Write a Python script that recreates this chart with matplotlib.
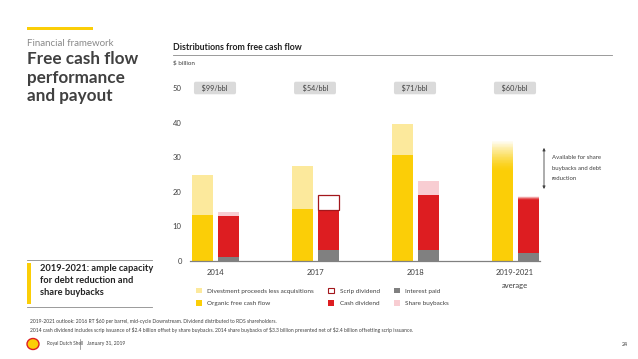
import matplotlib
matplotlib.use("Agg")
import matplotlib.pyplot as plt
from matplotlib.patches import Patch, Rectangle, Ellipse
from matplotlib.lines import Line2D
import numpy as np

plt.rcParams['font.family'] = ['Lato', 'DejaVu Sans']

# data ($ billion)
periods = ["2014", "2017", "2018", "2019-2021\naverage"]
prices = ["$99/bbl", "$54/bbl", "$71/bbl", "$60/bbl"]
organic_fcf = [13.3, 15.0, 30.6, 26.0]
divestments = [11.7, 12.5, 8.9, 0.0]
interest_paid = [1.2, 3.2, 3.2, 2.4]
cash_dividend = [11.8, 11.3, 15.9, 15.2]
share_buybacks = [1.1, 0.3, 4.0, 0.0]
scrip_dividend = [0.0, 4.3, 0.0, 0.0]
# outlook fades out between these two levels
outlook_fcf_top = 34.8
outlook_dist_top = 18.7
available_range = (20.0, 33.5)

YELLOW = "#FBCE07"
LIGHT_YELLOW = "#FCE99C"
RED = "#DD1D21"
PINK = "#F8CDD2"
GREY = "#808080"
DARK_RED = "#A3171C"
TEXT = "#404040"

W, H = 638, 359
fig = plt.figure(figsize=(W / 100, H / 100), dpi=100)


def fx(px):
    return px / W


def fy(py):
    return 1 - py / H


ax = fig.add_axes([fx(190), fy(261), fx(540) - fx(190), fy(88) - fy(261)])
x = np.arange(len(periods))
bw = 0.21
off = 0.13

ax.bar(x - off, organic_fcf, bw, color=YELLOW, zorder=2)
ax.bar(x - off, divestments, bw, bottom=organic_fcf, color=LIGHT_YELLOW, zorder=2)

ax.bar(x + off, interest_paid, bw, color=GREY, zorder=2)
b1 = np.array(interest_paid)
ax.bar(x + off, cash_dividend, bw, bottom=b1, color=RED, zorder=2)
b2 = b1 + np.array(cash_dividend)
ax.bar(x + off, share_buybacks, bw, bottom=b2, color=PINK, zorder=2)
b3 = b2 + np.array(share_buybacks)
scrip = np.array(scrip_dividend)
ax.bar(x[scrip > 0] + off, scrip[scrip > 0], bw, bottom=b3[scrip > 0],
       facecolor="white", edgecolor=DARK_RED, linewidth=0.9, zorder=2)

# fading tops for the outlook period
n = 40
i = len(periods) - 1
for lo, hi, xc, col in [(organic_fcf[i], outlook_fcf_top, x[i] - off, YELLOW),
                        (b2[i], outlook_dist_top, x[i] + off, RED)]:
    edges = np.linspace(lo, hi, n + 1)
    for k in range(n):
        t = (k + 0.5) / n
        ax.bar(xc, edges[k + 1] - edges[k], bw, bottom=edges[k], color=col,
               alpha=1 - t ** 1.4, linewidth=0, zorder=2)

ax.set_xlim(-0.25, 3.25)
ax.set_ylim(0, 50)
ax.set_yticks(range(0, 51, 10))
ax.set_xticks(x)
ax.set_xticklabels(periods, fontsize=5.5, color=TEXT, linespacing=1.9)
ax.tick_params(axis="y", labelsize=5.5, labelcolor=TEXT, length=0, pad=6)
ax.tick_params(axis="x", length=0, pad=6)
for s in ["top", "right", "left"]:
    ax.spines[s].set_visible(False)
ax.spines["bottom"].set_color(GREY)
ax.spines["bottom"].set_linewidth(0.9)

for xi, p in zip(x, prices):
    ax.text(xi, 50, "   " + p + "   ", ha="center", va="center", fontsize=5.2, color=TEXT,
            bbox=dict(boxstyle="round,pad=0.35,rounding_size=0.25", fc="#DADADA", ec="none"),
            clip_on=False)

ax.annotate("", xy=(3.29, available_range[1]), xytext=(3.29, available_range[0]),
            arrowprops=dict(arrowstyle="<|-|>", color=TEXT, lw=0.6,
                            mutation_scale=4), annotation_clip=False)
ax.text(3.37, 30.5, "Available for share\nbuybacks and debt\nreduction", fontsize=4.3,
        color=TEXT, va="top", ha="left", linespacing=2.3, clip_on=False)

handles = [Patch(fc=LIGHT_YELLOW, label="Divestment proceeds less acquisitions"),
           Patch(fc=YELLOW, label="Organic free cash flow"),
           Patch(fc="white", ec=DARK_RED, lw=0.8, label="Scrip dividend"),
           Patch(fc=RED, label="Cash dividend"),
           Patch(fc=GREY, label="Interest paid"),
           Patch(fc=PINK, label="Share buybacks")]
fig.legend(handles=handles, ncol=3, loc="upper left", bbox_to_anchor=(fx(190), fy(282)),
           frameon=False, fontsize=4.6, handlelength=1.0, handleheight=1.0,
           handletextpad=0.8, columnspacing=2.2, labelspacing=1.0, labelcolor=TEXT)

# header and left panel
fig.add_artist(Rectangle((fx(27), fy(30)), fx(93) - fx(27), fy(27) - fy(30),
                         transform=fig.transFigure, color=YELLOW, lw=0))
fig.text(fx(27), fy(44), "Financial framework", fontsize=7, color="#8A8A8A", va="center")
fig.text(fx(27), fy(51), "Free cash flow\nperformance\nand payout", fontsize=12.3,
         fontweight="bold", color=TEXT, va="top", linespacing=1.2)

fig.text(fx(173), fy(47), "Distributions from free cash flow", fontsize=6.3,
         fontweight="bold", color="#222222", va="center")
fig.add_artist(Line2D([fx(173), fx(612)], [fy(55), fy(55)], color="#8A8A8A", lw=0.6))
fig.text(fx(173), fy(63), "$ billion", fontsize=4.5, color=TEXT, va="center")

fig.add_artist(Line2D([fx(27), fx(152)], [fy(260), fy(260)], color="#8A8A8A", lw=0.6))
fig.add_artist(Line2D([fx(27), fx(152)], [fy(306.5), fy(306.5)], color="#8A8A8A", lw=0.6))
fig.add_artist(Rectangle((fx(27), fy(304)), fx(31) - fx(27), fy(263) - fy(304),
                         transform=fig.transFigure, color=YELLOW, lw=0))
fig.text(fx(40), fy(264), "2019-2021: ample capacity\nfor debt reduction and\nshare buybacks",
         fontsize=6.7, fontweight="bold", color="#222222", va="top", linespacing=1.4)

fig.text(fx(30), fy(321), "2019-2021 outlook: 2016 RT $60 per barrel, mid-cycle Downstream. "
         "Dividend distributed to RDS shareholders.", fontsize=3.65, color=TEXT, va="center")
fig.text(fx(30), fy(330), "2014 cash dividend includes scrip issuance of $2.4 billion offset by "
         "share buybacks. 2014 share buybacks of $3.3 billion presented net of $2.4 billion "
         "offsetting scrip issuance.", fontsize=3.65, color=TEXT, va="center")

# footer
fig.add_artist(Ellipse((fx(33), fy(344)), fx(12), fy(0) - fy(11), transform=fig.transFigure,
                       fc=YELLOW, ec=RED, lw=1.0))
fig.text(fx(47), fy(344), "Royal Dutch Shell", fontsize=3.3, color=TEXT, va="center")
fig.add_artist(Line2D([fx(80), fx(80)], [fy(339), fy(349)], color=GREY, lw=0.5))
fig.text(fx(87), fy(344), "January 31, 2019", fontsize=3.6, color=TEXT, va="center")
fig.text(fx(622), fy(344), "24", fontsize=3.8, color=TEXT, va="center")

fig.savefig("out.png", dpi=100)
